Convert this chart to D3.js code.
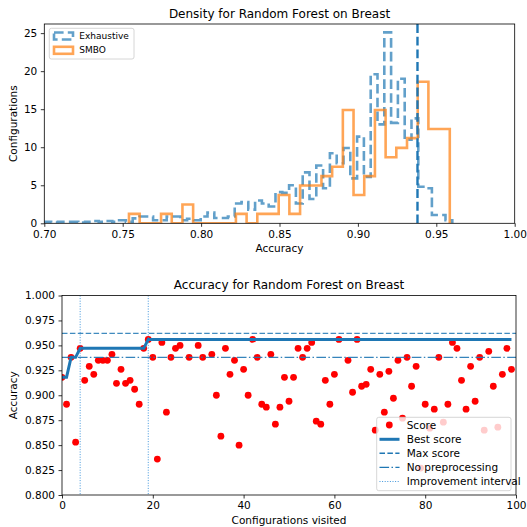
<!DOCTYPE html>
<html>
<head>
<meta charset="utf-8">
<script src="https://cdn.jsdelivr.net/npm/d3@7"></script>
<style>
  body { margin: 0; background: #fff; }
  svg { font-family: "DejaVu Sans", sans-serif; }
</style>
</head>
<body>
<svg id="chart" width="527" height="527"></svg>
<script>
// ---- data ----
// density per bin, equal-width bins spanning the given range
const exhaustiveDensity = [
  0.2, 0.1, 0.2, 0.2, 0.2, 0.1, 0.2, 0.3, 0.2, 0.3, 0.2, 0.4, 0.2,
  0.65, 0.9, 0.9, 0.4, 0.4, 0.9, 0.9, 0.4, 0.6, 0.4, 0.9, 1.4, 0.7, 0.7, 0.9,
  2.6, 2.8, 1.8, 3.0, 2.6, 2.2, 4.1, 4.0, 5.0, 2.6,
  6.7, 3.2, 7.6, 4.6, 9.2, 7.9, 9.9, 5.9, 11.4, 6.1,
  19.6, 13.0, 25.1, 13.2, 19.0, 11.0, 13.8, 4.8, 4.6, 1.1, 1.1, 0.4
];
const exhaustiveRange = [0.700, 0.9602];

const smboDensity = [
  1.24, 0, 0, 1.24, 0, 2.48, 0, 0, 0, 0, 1.24, 0, 1.24, 1.24, 3.72,
  1.24, 4.96, 4.96, 6.2, 7.44, 14.9, 3.72, 6.2, 14.9, 8.68, 9.92, 11.2, 18.6, 12.4, 12.4
];
const smboRange = [0.754, 0.9586];

const noPreprocessing = 0.938;
const maxScore = 0.962;

// score of each visited configuration (values below 0.80 fall outside the view)
const scores = [
  0.918, 0.891, 0.938, 0.853, 0.947, 0.915, 0.929, 0.921, 0.935, 0.935,
  0.935, 0.941, 0.912, 0.926, 0.912, 0.915, 0.906, 0.891, 0.947, 0.956,
  0.938, 0.836, 0.953, 0.883, 0.938, 0.947, 0.950, 0.790, 0.938, 0.757,
  0.950, 0.938, 0.791, 0.941, 0.900, 0.859, 0.947, 0.921, 0.935, 0.850,
  0.926, 0.900, 0.956, 0.938, 0.891, 0.888, 0.941, 0.871, 0.888, 0.918,
  0.894, 0.918, 0.947, 0.938, 0.947, 0.953, 0.874, 0.871, 0.915, 0.891,
  0.921, 0.956, 0.778, 0.935, 0.903, 0.956, 0.909, 0.911, 0.926, 0.865,
  0.921, 0.883, 0.924, 0.897, 0.935, 0.877, 0.938, 0.909, 0.929, 0.827,
  0.891, 0.867, 0.886, 0.938, 0.873, 0.891, 0.953, 0.947, 0.915, 0.886,
  0.929, 0.894, 0.938, 0.865, 0.944, 0.909, 0.868, 0.921, 0.947, 0.926
];
const improvementAt = [4, 19];

const densityXTicks = [0.70, 0.75, 0.80, 0.85, 0.90, 0.95, 1.00];
const densityYTicks = [0, 5, 10, 15, 20, 25];
const visitXTicks = [0, 20, 40, 60, 80, 100];
const visitYTicks = [0.800, 0.825, 0.850, 0.875, 0.900, 0.925, 0.950, 0.975, 1.000];

// ---- drawing ----
const C0 = '#1f77b4';
const C1 = '#ff7f0e';
const svg = d3.select('#chart');

function styleAxis(g) {
  g.select('.domain').remove();
  g.selectAll('.tick line').attr('stroke', '#000').attr('stroke-width', 0.8);
  g.selectAll('.tick text').attr('font-size', 10.5).attr('fill', '#000')
    .attr('font-family', '"DejaVu Sans", sans-serif');
}

function frame(box) {
  svg.append('rect')
    .attr('x', box.left).attr('y', box.top)
    .attr('width', box.right - box.left).attr('height', box.bottom - box.top)
    .attr('fill', 'none').attr('stroke', '#000').attr('stroke-width', 0.8);
}

function stepPath(dens, range, x, y) {
  const w = (range[1] - range[0]) / dens.length;
  const pts = [[range[0], 0]];
  dens.forEach((d, i) => {
    pts.push([range[0] + i * w, d]);
    pts.push([range[0] + (i + 1) * w, d]);
  });
  pts.push([range[1], 0]);
  return d3.line().x((p) => x(p[0])).y((p) => y(p[1]))(pts);
}

// ===== top: density histogram =====
const topBox = { left: 44.3, right: 514.7, top: 24, bottom: 223.3 };
const xd = d3.scaleLinear().domain([0.7, 1.0]).range([topBox.left, topBox.right]);
const yd = d3.scaleLinear().domain([0, 26.2]).range([topBox.bottom, topBox.top]);

svg.append('clipPath').attr('id', 'clipTop').append('rect')
  .attr('x', topBox.left).attr('y', topBox.top)
  .attr('width', topBox.right - topBox.left).attr('height', topBox.bottom - topBox.top);

const gTop = svg.append('g').attr('clip-path', 'url(#clipTop)');

gTop.append('path')
  .attr('d', stepPath(exhaustiveDensity, exhaustiveRange, xd, yd))
  .attr('fill', 'none')
  .attr('stroke', C0).attr('stroke-opacity', 0.7)
  .attr('stroke-width', 2.6)
  .attr('stroke-dasharray', '9.6,4.2');

gTop.append('path')
  .attr('d', stepPath(smboDensity, smboRange, xd, yd))
  .attr('fill', 'none')
  .attr('stroke', C1).attr('stroke-opacity', 0.7)
  .attr('stroke-width', 2.6);

gTop.append('line')
  .attr('x1', xd(noPreprocessing)).attr('x2', xd(noPreprocessing))
  .attr('y1', topBox.top).attr('y2', topBox.bottom)
  .attr('stroke', C0).attr('stroke-width', 2.4)
  .attr('stroke-dasharray', '8.9,3.8');

svg.append('g')
  .attr('transform', `translate(0,${topBox.bottom})`)
  .call(d3.axisBottom(xd).tickValues(densityXTicks).tickFormat(d3.format('.2f'))
    .tickSize(3.5).tickPadding(3.5))
  .call(styleAxis);

svg.append('g')
  .attr('transform', `translate(${topBox.left},0)`)
  .call(d3.axisLeft(yd).tickValues(densityYTicks).tickFormat(d3.format('d'))
    .tickSize(3.5).tickPadding(3.5))
  .call(styleAxis);

frame(topBox);

svg.append('text').attr('x', (topBox.left + topBox.right) / 2).attr('y', 18)
  .attr('text-anchor', 'middle').attr('font-size', 12)
  .text('Density for Random Forest on Breast');
svg.append('text').attr('x', (topBox.left + topBox.right) / 2).attr('y', 252)
  .attr('text-anchor', 'middle').attr('font-size', 10.5).text('Accuracy');
svg.append('text').attr('transform', `translate(17,${(topBox.top + topBox.bottom) / 2}) rotate(-90)`)
  .attr('text-anchor', 'middle').attr('font-size', 10.5).text('Configurations');

// top legend
const legTop = svg.append('g');
legTop.append('rect')
  .attr('x', 49.3).attr('y', 28.3).attr('width', 84.7).attr('height', 30.7)
  .attr('rx', 2).attr('fill', '#fff').attr('fill-opacity', 0.8)
  .attr('stroke', '#ccc').attr('stroke-width', 0.8);
[
  { label: 'Exhaustive', color: C0, dash: '9.6,4.2', y: 36 },
  { label: 'SMBO', color: C1, dash: null, y: 50.3 },
].forEach((d) => {
  legTop.append('rect')
    .attr('x', 54).attr('y', d.y - 3.5).attr('width', 19).attr('height', 7)
    .attr('fill', 'none').attr('stroke', d.color).attr('stroke-opacity', 0.7)
    .attr('stroke-width', 2.6).attr('stroke-dasharray', d.dash);
  legTop.append('text').attr('x', 79.3).attr('y', d.y).attr('dy', '0.35em')
    .attr('font-size', 9).text(d.label);
});

// ===== bottom: accuracy per configuration =====
const botBox = { left: 62, right: 516, top: 295.5, bottom: 495 };
const xs = d3.scaleLinear().domain([0, 100]).range([botBox.left, botBox.right]);
const ys = d3.scaleLinear().domain([0.8, 1.0]).range([botBox.bottom, botBox.top]);

svg.append('clipPath').attr('id', 'clipBot').append('rect')
  .attr('x', botBox.left).attr('y', botBox.top)
  .attr('width', botBox.right - botBox.left).attr('height', botBox.bottom - botBox.top);

const gBot = svg.append('g').attr('clip-path', 'url(#clipBot)');

gBot.selectAll('circle.score')
  .data(scores)
  .join('circle')
  .attr('class', 'score')
  .attr('cx', (d, i) => xs(i))
  .attr('cy', (d) => ys(d))
  .attr('r', 3.4)
  .attr('fill', 'red');

// running best
const best = [];
scores.forEach((s, i) => best.push(i === 0 ? s : Math.max(best[i - 1], s)));
gBot.append('path')
  .attr('d', d3.line().x((d, i) => xs(i)).y((d) => ys(d))(best))
  .attr('fill', 'none').attr('stroke', C0).attr('stroke-width', 3);

gBot.append('line')
  .attr('x1', botBox.left).attr('x2', botBox.right)
  .attr('y1', ys(maxScore)).attr('y2', ys(maxScore))
  .attr('stroke', C0).attr('stroke-opacity', 0.85).attr('stroke-width', 1.4)
  .attr('stroke-dasharray', '5.5,2.4');

gBot.append('line')
  .attr('x1', botBox.left).attr('x2', botBox.right)
  .attr('y1', ys(noPreprocessing)).attr('y2', ys(noPreprocessing))
  .attr('stroke', C0).attr('stroke-opacity', 0.9).attr('stroke-width', 1.3)
  .attr('stroke-dasharray', '9.6,2.4,1.5,2.4');

gBot.selectAll('line.improve')
  .data(improvementAt)
  .join('line')
  .attr('class', 'improve')
  .attr('x1', (d) => xs(d)).attr('x2', (d) => xs(d))
  .attr('y1', botBox.top).attr('y2', botBox.bottom)
  .attr('stroke', '#2b8ad8').attr('stroke-width', 0.9)
  .attr('stroke-dasharray', '1,1.6');

svg.append('g')
  .attr('transform', `translate(0,${botBox.bottom})`)
  .call(d3.axisBottom(xs).tickValues(visitXTicks).tickFormat(d3.format('d'))
    .tickSize(3.5).tickPadding(3.5))
  .call(styleAxis);

svg.append('g')
  .attr('transform', `translate(${botBox.left},0)`)
  .call(d3.axisLeft(ys).tickValues(visitYTicks).tickFormat(d3.format('.3f'))
    .tickSize(3.5).tickPadding(3.5))
  .call(styleAxis);

frame(botBox);

svg.append('text').attr('x', (botBox.left + botBox.right) / 2).attr('y', 289)
  .attr('text-anchor', 'middle').attr('font-size', 12)
  .text('Accuracy for Random Forest on Breast');
svg.append('text').attr('x', (botBox.left + botBox.right) / 2).attr('y', 524)
  .attr('text-anchor', 'middle').attr('font-size', 10.5).text('Configurations visited');
svg.append('text').attr('transform', `translate(17,${(botBox.top + botBox.bottom) / 2}) rotate(-90)`)
  .attr('text-anchor', 'middle').attr('font-size', 10.5).text('Accuracy');

// bottom legend
const legBot = svg.append('g');
legBot.append('rect')
  .attr('x', 376.7).attr('y', 417.3).attr('width', 134.3).attr('height', 73.4)
  .attr('rx', 2).attr('fill', '#fff').attr('fill-opacity', 0.8)
  .attr('stroke', '#ccc').attr('stroke-width', 0.8);
const legendItems = [
  { label: 'Score', y: 425 },
  { label: 'Best score', y: 439.3, w: 3, dash: null },
  { label: 'Max score', y: 453.3, w: 1.4, dash: '5.5,2.4' },
  { label: 'No preprocessing', y: 467.3, w: 1.3, dash: '9.6,2.4,1.5,2.4' },
  { label: 'Improvement interval', y: 481.5, w: 0.9, dash: '1,1.6', color: '#2b8ad8' },
];
legendItems.forEach((d) => {
  if (d.label === 'Score') {
    legBot.append('circle').attr('cx', 389.3).attr('cy', d.y).attr('r', 3.4).attr('fill', 'red');
  } else {
    legBot.append('line')
      .attr('x1', 379.5).attr('x2', 399.5).attr('y1', d.y).attr('y2', d.y)
      .attr('stroke', d.color || C0).attr('stroke-width', d.w)
      .attr('stroke-dasharray', d.dash);
  }
  legBot.append('text').attr('x', 406.7).attr('y', d.y).attr('dy', '0.35em')
    .attr('font-size', 10.5).text(d.label);
});
</script>
</body>
</html>
